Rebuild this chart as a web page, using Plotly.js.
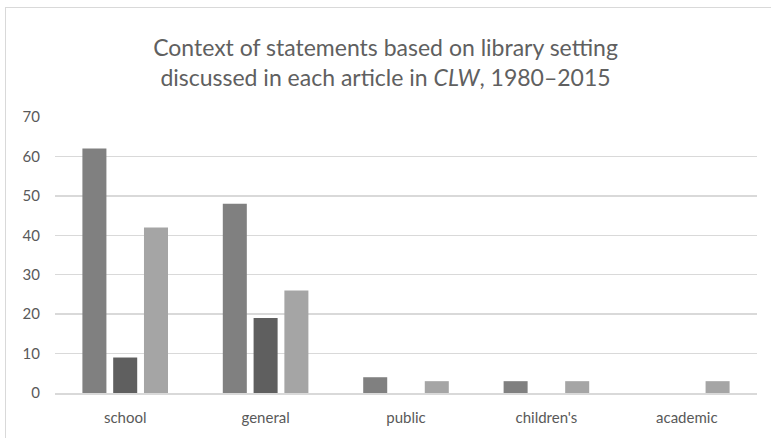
<!DOCTYPE html>
<html>
<head>
<meta charset="utf-8">
<script src="https://cdn.plot.ly/plotly-3.0.1.min.js"></script>
<style>
  html, body { margin: 0; padding: 0; background: #ffffff; }
  #wrap { position: absolute; left: 0; top: 0; width: 771px; height: 438px; }
  #frame { position: absolute; left: 5px; top: 7px; width: 766px; height: 431px;
           border-left: 1.5px solid #d9d9d9; border-top: 1.5px solid #d9d9d9; pointer-events: none; }
  #chart { position: absolute; left: 0; top: 0; width: 771px; height: 438px; }
</style>
</head>
<body>
<div id="wrap">
  <div id="chart"></div>
  <div id="frame"></div>
</div>
<script>
const categories = ["school", "general", "public", "children's", "academic"];
const series1 = [62, 48, 4, 3, 0];
const series2 = [9, 19, 0, 0, 0];
const series3 = [42, 26, 3, 3, 3];
const yTicks = [0, 10, 20, 30, 40, 50, 60, 70];

const colors = ["#808080", "#5f5f5f", "#a5a5a5"];
const traces = [series1, series2, series3].map((vals, i) => ({
  type: "bar",
  x: categories,
  y: vals,
  marker: { color: colors[i] },
  hoverinfo: "x+y",
  showlegend: false
}));

const layout = {
  width: 771,
  height: 438,
  paper_bgcolor: "#ffffff",
  plot_bgcolor: "#ffffff",
  margin: { l: 55, r: 14, t: 117, b: 45 },
  font: { family: "Lato, 'Open Sans', sans-serif", color: "#595959", size: 15 },
  title: {
    text: "Context of statements based on library setting<br>discussed in each article in <i>CLW</i>, 1980–2015",
    font: { family: "Lato, 'Open Sans', sans-serif", size: 23, color: "#606060" },
    x: 0.5, xanchor: "center",
    y: 0.872, yanchor: "top", yref: "container"
  },
  barmode: "group",
  bargap: 0.342,
  bargroupgap: 0.22,
  xaxis: {
    type: "category",
    showgrid: false,
    showline: true,
    linecolor: "#d9d9d9",
    linewidth: 1.5,
    ticks: "",
    ticklabelstandoff: 10,
    tickfont: { size: 15, color: "#595959" },
    zeroline: false
  },
  yaxis: {
    range: [0, 70],
    tickvals: yTicks,
    ticktext: yTicks.map(String),
    showgrid: true,
    gridcolor: "#d9d9d9",
    gridwidth: 1.5,
    zeroline: false,
    showline: false,
    ticks: "",
    ticklabelstandoff: 14,
    tickfont: { size: 15, color: "#595959" }
  }
};

Plotly.newPlot("chart", traces, layout, { displayModeBar: false, staticPlot: true });
</script>
</body>
</html>
